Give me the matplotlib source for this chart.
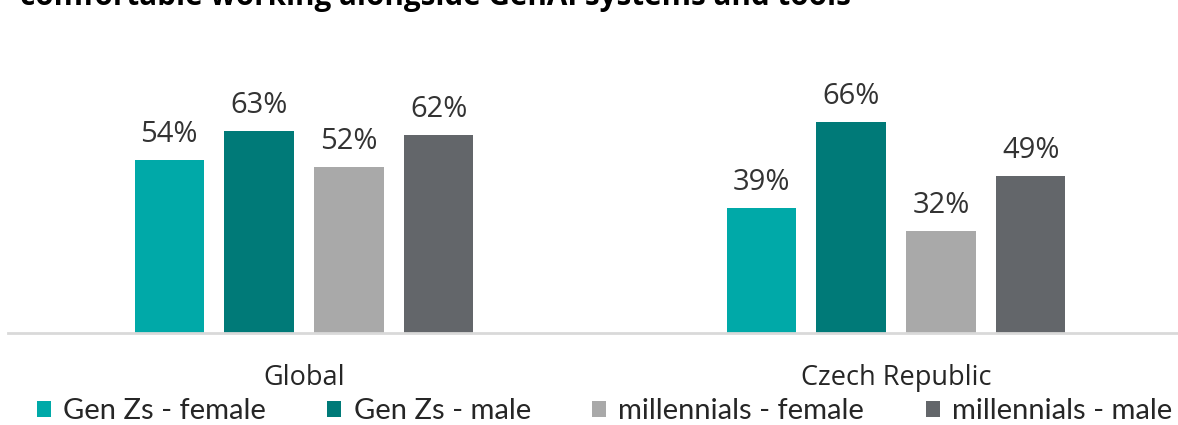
import matplotlib
matplotlib.use("Agg")
import numpy as np
from matplotlib import pyplot as plt
from matplotlib.patches import Patch

regions = ["Global", "Czech Republic"]
series = ["Gen Zs - female", "Gen Zs - male", "millennials - female", "millennials - male"]
gen_z_female = [54, 39]
gen_z_male = [63, 66]
mill_female = [52, 32]
mill_male = [62, 49]
colors = ["#00A9A8", "#007A78", "#A9A9A9", "#63666A"]

values = [gen_z_female, gen_z_male, mill_female, mill_male]

fig = plt.figure(figsize=(11.78, 4.25), dpi=100)
ax = fig.add_axes([8 / 1178, 92 / 425, 1170 / 1178, 333 / 425])

x = np.arange(len(regions))
step = 0.152
width = 0.1166
for i, (vals, c) in enumerate(zip(values, colors)):
    pos = x + (i - 1.5) * step
    bars = ax.bar(pos, vals, width, color=c, zorder=2)
    for b, v in zip(bars, vals):
        ax.annotate(f"{v}%", (b.get_x() + b.get_width() / 2, v),
                    xytext=(0, 13), textcoords="offset points",
                    ha="center", va="baseline", fontsize=21,
                    family="Open Sans", color="#333333")

ax.set_xlim(-0.5, 1 + 282 / 592)
ax.set_ylim(0, 333 / 3.2)
for s in ["top", "right", "left"]:
    ax.spines[s].set_visible(False)
ax.spines["bottom"].set_color("#D9D9D9")
ax.spines["bottom"].set_linewidth(2)
ax.set_yticks([])
ax.set_xticks(x)
ax.set_xticklabels(regions, family="Open Sans", fontsize=19.5, color="#262626")
ax.tick_params(axis="x", length=0, pad=22)

handles = [Patch(facecolor=c, edgecolor="none") for c in colors]
fig.legend(handles, series, loc="center left", bbox_to_anchor=(37 / 1178, 1 - 411 / 425),
           ncol=4, frameon=False, borderpad=0, borderaxespad=0,
           handlelength=0.48, handleheight=0.48, handletextpad=0.42,
           columnspacing=2.1, prop={"family": "Lato", "size": 21})
for t in fig.legends[0].get_texts():
    t.set_color("#262626")

fig.text(20 / 1178, 1 - 5 / 425, "comfortable working alongside GenAI systems and tools",
         ha="left", va="baseline", fontsize=21.3, fontweight="bold",
         family="Open Sans", color="black")

fig.savefig("out.png", dpi=100)
